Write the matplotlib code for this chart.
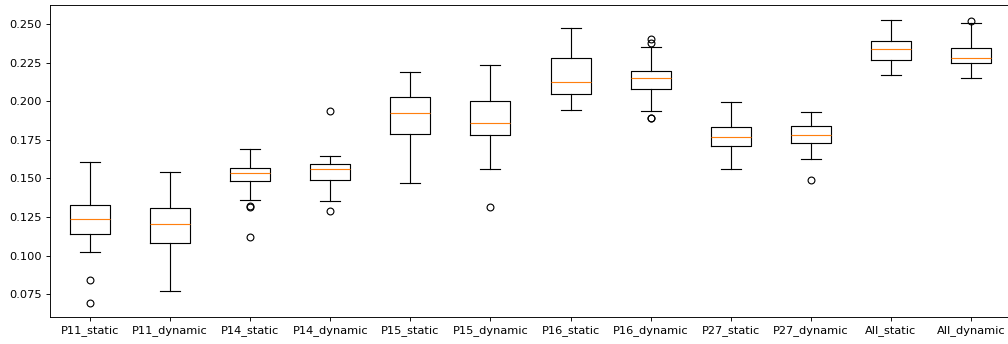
import matplotlib
matplotlib.use("Agg")
import matplotlib.pyplot as plt

labels = ["P11_static", "P11_dynamic", "P14_static", "P14_dynamic",
          "P15_static", "P15_dynamic", "P16_static", "P16_dynamic",
          "P27_static", "P27_dynamic", "All_static", "All_dynamic"]

whislo = [0.1025, 0.0773, 0.1358, 0.1352, 0.1472, 0.1559, 0.1941, 0.1939, 0.1559, 0.1624, 0.2172, 0.2148]
q1     = [0.1140, 0.1084, 0.1485, 0.1492, 0.1788, 0.1781, 0.2049, 0.2081, 0.1712, 0.1727, 0.2269, 0.2245]
med    = [0.1239, 0.1205, 0.1535, 0.1563, 0.1922, 0.1857, 0.2127, 0.2150, 0.1768, 0.1783, 0.2336, 0.2282]
q3     = [0.1330, 0.1310, 0.1570, 0.1595, 0.2025, 0.1999, 0.2278, 0.2196, 0.1831, 0.1839, 0.2392, 0.2347]
whishi = [0.1608, 0.1539, 0.1693, 0.1647, 0.2191, 0.2232, 0.2476, 0.2353, 0.1997, 0.1928, 0.2528, 0.2506]
fliers = [[0.0842, 0.0691], [], [0.1319, 0.1315, 0.1123], [0.1939, 0.1291],
          [], [0.1317], [], [0.2401, 0.2379, 0.1891, 0.1889],
          [], [0.1492], [], [0.2521]]

stats = []
for i in range(len(labels)):
    stats.append(dict(label=labels[i], whislo=whislo[i], q1=q1[i], med=med[i],
                      q3=q3[i], whishi=whishi[i], fliers=fliers[i]))

# lower dpi so fonts and lines come out a bit smaller, like the original
dpi = 82
fig = plt.figure(figsize=(1008 / dpi, 344 / dpi), dpi=dpi)
ax = fig.add_axes([50 / 1008, 27 / 344, 961 / 1008, 312 / 344])
ax.bxp(stats)
ax.set_ylim(0.0603, 0.2623)
ax.set_yticks([0.075, 0.100, 0.125, 0.150, 0.175, 0.200, 0.225, 0.250])

fig.savefig("out.png", dpi=dpi)
